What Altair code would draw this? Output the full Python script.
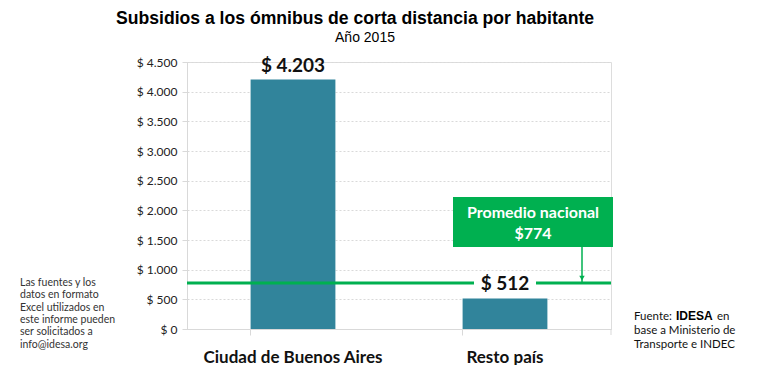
import altair as alt
import pandas as pd

categories = ["Ciudad de Buenos Aires", "Resto país"]
values = [4203, 512]
value_labels = ["$ 4.203", "$ 512"]
promedio = 774
promedio_label = ["Promedio nacional", "$774"]
y_ticks = [0, 500, 1000, 1500, 2000, 2500, 3000, 3500, 4000, 4500]
title_text = "Subsidios a los ómnibus de corta distancia por habitante"
subtitle_text = "Año 2015"
note_left = ["Las fuentes y los", "datos en formato", "Excel utilizados en",
             "este informe pueden", "ser solicitados a", "info@idesa.org"]
note_right = ["Fuente: ", "IDESA", " en", "base a Ministerio de", "Transporte e INDEC"]

df = pd.DataFrame({"cat": categories, "val": values, "lab": value_labels})

BAR = "#31849B"
GREEN = "#00B050"
GRAY = "#d9d9d9"
W, H = 424, 267

xscale = alt.Scale(paddingInner=0.6, paddingOuter=0.3)
xaxis = alt.Axis(labelAngle=0, labelFont="Lato", labelFontWeight="bold",
                 labelFontSize=17, labelColor="#111111", labelPadding=14,
                 domainColor=GRAY, tickColor=GRAY, tickSize=6,
                 bandPosition=0, ticks=True, title=None)
yscale = alt.Scale(domain=[0, 4500])
yaxis = alt.Axis(values=y_ticks, labelFont="Lato", labelFontSize=12,
                 labelColor="#222222", labelPadding=5, labelOverlap=False,
                 labelExpr="'$ ' + replace(format(datum.value, ','), ',', '.')",
                 domainColor=GRAY, tickColor=GRAY, tickSize=5, title=None,
                 grid=True, gridColor=GRAY, gridDash=[2, 2])


def xn():
    return alt.X("cat:N", sort=categories, scale=xscale, axis=xaxis, title=None)


def yq(f):
    return alt.Y(f, scale=yscale, axis=yaxis, title=None)


base = alt.Chart(df)
one = pd.DataFrame({"a": [0]})

bars = base.mark_bar(color=BAR).encode(x=xn(), y=yq("val:Q"))

lab1 = base.transform_filter(alt.datum.cat == categories[0]).mark_text(
    font="Lato", fontWeight="bold", fontSize=19, color="#111111",
    baseline="alphabetic", dy=-8).encode(x=xn(), y=yq("val:Q"), text="lab:N")

avg_df = pd.DataFrame({"val": [promedio]})
avg_line = alt.Chart(avg_df).mark_rule(color=GREEN, strokeWidth=3).encode(
    y=yq("val:Q"), x=alt.value(0), x2=alt.value(W))

lab2_src = base.transform_filter(alt.datum.cat == categories[1]).transform_calculate(
    val=str(promedio))
lab2_bg = lab2_src.mark_tick(color="white", thickness=20, size=62, opacity=1).encode(
    x=xn(), y=yq("val:Q"))
lab2 = lab2_src.mark_text(
    font="Lato", fontWeight="bold", fontSize=19, color="#111111",
    baseline="middle", dy=1).encode(x=xn(), y=yq("val:Q"), text="lab:N")

box = alt.Chart(one).mark_rect(color=GREEN).encode(
    x=alt.value(266), x2=alt.value(426), y=alt.value(135), y2=alt.value(185))

bt = dict(font="Lato", fontWeight="bold", fontSize=16, color="white", baseline="alphabetic")
box_t1 = alt.Chart(one).mark_text(text=promedio_label[0], **bt).encode(
    x=alt.value(346), y=alt.value(156))
box_t2 = alt.Chart(one).mark_text(text=promedio_label[1], **bt).encode(
    x=alt.value(346), y=alt.value(177))

arrow = alt.Chart(avg_df).mark_rule(color=GREEN, strokeWidth=1.5).encode(
    x=alt.value(395), y=yq("val:Q"), y2=alt.value(185))
arrow_head = alt.Chart(avg_df).mark_point(
    shape="triangle-down", filled=True, color=GREEN, size=30, opacity=1, yOffset=-5).encode(
    x=alt.value(395), y=yq("val:Q"))

end_tick = alt.Chart(one).mark_rule(color=GRAY).encode(
    x=alt.value(W), y=alt.value(H), y2=alt.value(H + 6))

title = alt.Chart(one).mark_text(
    text=title_text, font="Liberation Sans", fontWeight="bold", fontSize=17.6,
    color="#000000", baseline="alphabetic").encode(x=alt.value(168), y=alt.value(-38))
subtitle = alt.Chart(one).mark_text(
    text=subtitle_text, font="Liberation Sans", fontSize=14,
    color="#000000", baseline="alphabetic").encode(x=alt.value(178), y=alt.value(-20))

left_note = alt.Chart(one).mark_text(
    text=note_left, font="Lato", fontSize=10.5, color="#333333", align="left",
    baseline="top", lineHeight=12.3).encode(x=alt.value(-167), y=alt.value(216))

rn = dict(font="Lato", fontSize=11.5, color="#111111", align="left", baseline="alphabetic")
r1 = alt.Chart(one).mark_text(text=note_right[0], **rn).encode(
    x=alt.value(447), y=alt.value(258))
r2 = alt.Chart(one).mark_text(
    text=note_right[1], font="Liberation Sans", fontWeight="bold", fontSize=12,
    color="#000000", align="left", baseline="alphabetic").encode(
    x=alt.value(489), y=alt.value(258))
r3 = alt.Chart(one).mark_text(text=note_right[2], **rn).encode(
    x=alt.value(530), y=alt.value(258))
r4 = alt.Chart(one).mark_text(text=note_right[3], **rn).encode(
    x=alt.value(447), y=alt.value(272))
r5 = alt.Chart(one).mark_text(text=note_right[4], **rn).encode(
    x=alt.value(447), y=alt.value(286))

chart = alt.layer(
    bars, avg_line, lab2_bg, lab1, lab2, box, box_t1, box_t2, arrow, arrow_head, end_tick,
    title, subtitle, left_note, r1, r2, r3, r4, r5
).properties(
    width=W, height=H,
    autosize=alt.AutoSizeParams(type="none"),
    padding={"left": 179, "top": 54, "right": 149, "bottom": 36},
).configure_view(strokeWidth=0).configure(background="white")

chart.save("out.html", embed_options={"renderer": "svg", "actions": False})
